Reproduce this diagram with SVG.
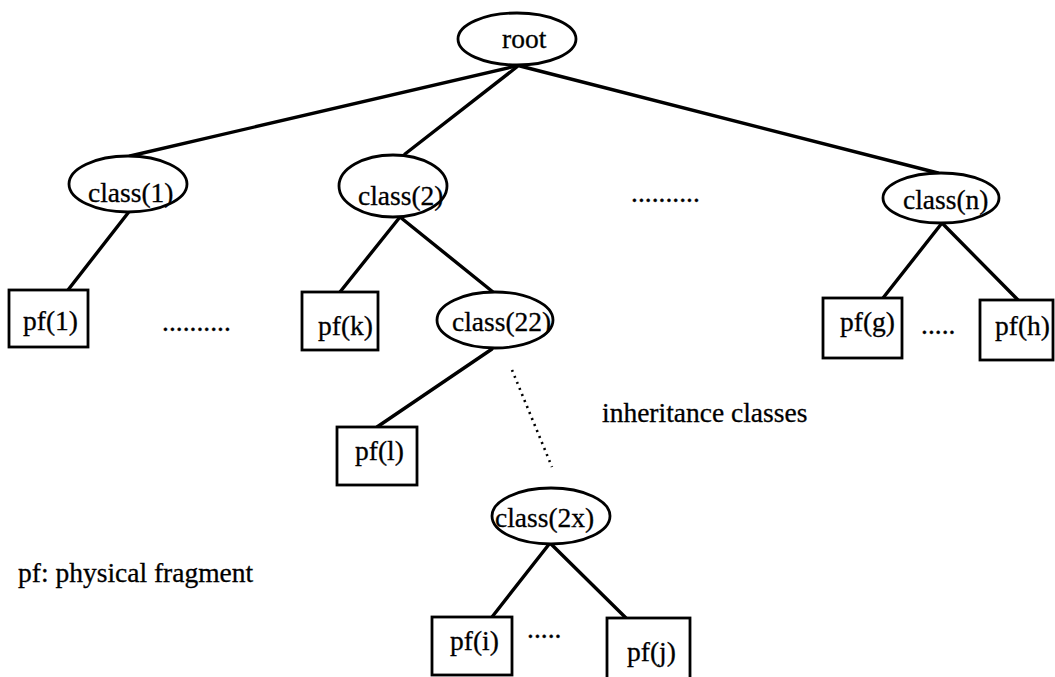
<svg xmlns="http://www.w3.org/2000/svg" width="1055" height="677" viewBox="0 0 1055 677">
  <style>
    .bg { fill: #ffffff; }
    .edge { stroke: #000; stroke-width: 3.4; fill: none; stroke-linecap: round; }
    .dotted { stroke: #000; stroke-width: 2.6; fill: none; stroke-dasharray: 2 4.5; }
    .cls { fill: #ffffff; stroke: #000; stroke-width: 2.8; }
    .pf { fill: #ffffff; stroke: #000; stroke-width: 2.8; }
    .lbl { font-family: "Liberation Serif", "Times New Roman", serif; font-size: 27.5px; fill: #000; stroke: #000; stroke-width: 0.3; }
  </style>
  <rect class="bg" x="0" y="0" width="1055" height="677"/>

  <!-- tree connectors -->
  <g id="connectors">
    <line class="edge" x1="516" y1="66" x2="130" y2="156"/>
    <line class="edge" x1="518" y1="66" x2="405" y2="154"/>
    <line class="edge" x1="520" y1="66" x2="938" y2="173"/>
    <line class="edge" x1="128" y1="213" x2="68" y2="290"/>
    <line class="edge" x1="400" y1="217" x2="340" y2="292"/>
    <line class="edge" x1="400" y1="217" x2="493" y2="292"/>
    <line class="edge" x1="492" y1="349" x2="377" y2="427"/>
    <line class="dotted" x1="512" y1="370" x2="552" y2="467"/>
    <line class="edge" x1="942" y1="223" x2="883" y2="298"/>
    <line class="edge" x1="942" y1="223" x2="1018" y2="300"/>
    <line class="edge" x1="550" y1="543" x2="492" y2="617"/>
    <line class="edge" x1="550" y1="543" x2="626" y2="618"/>
  </g>

  <!-- class nodes -->
  <g id="root">
    <ellipse class="cls" cx="517" cy="39" rx="59" ry="26"/>
    <text class="lbl" x="502" y="48">root</text>
  </g>
  <g id="class1">
    <ellipse class="cls" cx="128" cy="184" rx="59" ry="28"/>
    <text class="lbl" x="88" y="202">class(1)</text>
  </g>
  <g id="class2">
    <ellipse class="cls" cx="393" cy="186" rx="54" ry="31"/>
    <text class="lbl" x="358" y="205">class(2)</text>
  </g>
  <g id="class22">
    <ellipse class="cls" cx="495" cy="320" rx="58" ry="28"/>
    <text class="lbl" x="452" y="331">class(22)</text>
  </g>
  <g id="classn">
    <ellipse class="cls" cx="941" cy="198" rx="58" ry="25"/>
    <text class="lbl" x="903" y="209">class(n)</text>
  </g>
  <g id="class2x">
    <ellipse class="cls" cx="551" cy="516" rx="59" ry="28"/>
    <text class="lbl" x="495" y="527">class(2x)</text>
  </g>

  <!-- physical fragment nodes -->
  <g id="pf1">
    <rect class="pf" x="9" y="290" width="79" height="57"/>
    <text class="lbl" x="23" y="330">pf(1)</text>
  </g>
  <g id="pfk">
    <rect class="pf" x="302" y="292" width="76" height="58"/>
    <text class="lbl" x="318" y="335">pf(k)</text>
  </g>
  <g id="pfl">
    <rect class="pf" x="337" y="427" width="80" height="58"/>
    <text class="lbl" x="355" y="460">pf(l)</text>
  </g>
  <g id="pfg">
    <rect class="pf" x="823" y="298" width="79" height="60"/>
    <text class="lbl" x="840" y="331">pf(g)</text>
  </g>
  <g id="pfh">
    <rect class="pf" x="980" y="300" width="73" height="60"/>
    <text class="lbl" x="995" y="335">pf(h)</text>
  </g>
  <g id="pfi">
    <rect class="pf" x="432" y="617" width="80" height="58"/>
    <text class="lbl" x="450" y="650">pf(i)</text>
  </g>
  <g id="pfj">
    <rect class="pf" x="607" y="618" width="83" height="62"/>
    <text class="lbl" x="627" y="661">pf(j)</text>
  </g>

  <!-- ellipses and notes -->
  <g id="annotations">
    <text class="lbl" x="162" y="331">..........</text>
    <text class="lbl" x="631" y="202">..........</text>
    <text class="lbl" x="921" y="334">.....</text>
    <text class="lbl" x="527" y="638">.....</text>
    <text class="lbl" x="602" y="422">inheritance classes</text>
    <text class="lbl" x="18" y="582">pf: physical fragment</text>
  </g>
</svg>
